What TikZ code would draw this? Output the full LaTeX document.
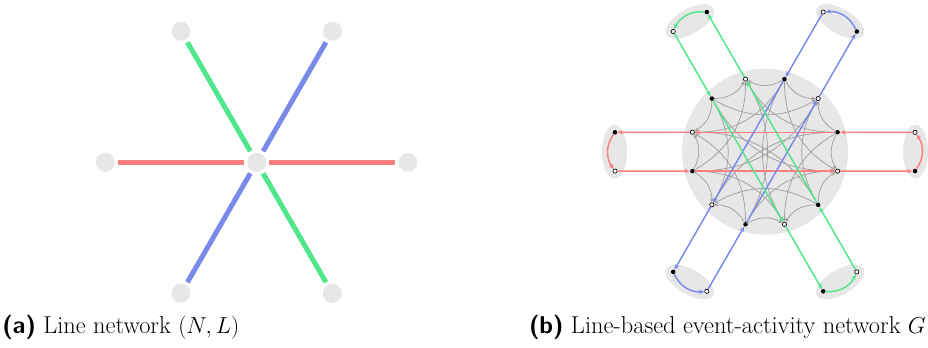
\documentclass[tikz,border=0pt]{standalone}
\usetikzlibrary{arrows.meta,calc}
\definecolor{lred}{RGB}{250,128,128}
\definecolor{lblue}{RGB}{122,138,235}
\definecolor{lgreen}{RGB}{80,230,140}
\definecolor{bggray}{RGB}{231,231,231}
\definecolor{tgray}{RGB}{160,160,160}
\begin{document}
\begin{tikzpicture}[x=0.75pt,y=0.75pt,
  lnode/.style={circle,fill=bggray,minimum size=14.25pt,inner sep=0pt},
  thickline/.style={line width=3.75pt,shorten <=2.25pt,shorten >=2.25pt},
  arrnode/.style={circle,fill=black,minimum size=3.4pt,inner sep=0pt},
  depnode/.style={circle,draw=black,fill=white,line width=0.5pt,minimum size=3.2pt,inner sep=0pt},
  act/.style={line width=1.1pt,-{Stealth[length=4pt,width=3.4pt]}},
  transfer/.style={draw=tgray,line width=0.55pt,-{Stealth[length=3pt,width=2.6pt]}},
  turn/.style={act,bend right=35},
  caption/.style={inner sep=0pt,font=\fontsize{18.3}{22}\selectfont}
]
\useasboundingbox (0,0) rectangle (928,347);

% ---------- (a) line network ----------
\begin{scope}[shift={(256.7,184.7)}]
  \node[lnode] (c) at (0,0) {};
  \foreach \a in {0,60,120,180,240,300}{
    \node[lnode] (p\a) at (\a:151.3) {};
  }
  \draw[thickline,lred] (p180) -- (c);
  \draw[thickline,lred] (c) -- (p0);
  \draw[thickline,lgreen] (p120) -- (c);
  \draw[thickline,lgreen] (c) -- (p300);
  \draw[thickline,lblue] (p60) -- (c);
  \draw[thickline,lblue] (c) -- (p240);
\end{scope}

% ---------- (b) event-activity network ----------
\begin{scope}[shift={(765,195.3)}]
  \fill[bggray] (0,0) circle [radius=83];
  \foreach \t in {0,60,120,180,240,300}{
    \fill[bggray,rotate=\t] (150.5,0) ellipse [x radius=12.5, y radius=27];
  }
  % inner events
  \foreach \a in {15,75,135,195,255,315}{
    \node[arrnode] (A\a) at (\a:75.15) {};
  }
  \foreach \d in {45,105,165,225,285,345}{
    \node[depnode] (D\d) at (\d:75.15) {};
  }
  % outer events: line l at angle t
  \foreach \l/\t in {r/0,b/60,g/120}{
    \node[depnode] (\l dP) at ({\t+7.37}:151.25) {};
    \node[arrnode] (\l aP) at ({\t-7.37}:151.25) {};
    \node[arrnode] (\l aQ) at ({\t+172.63}:151.25) {};
    \node[depnode] (\l dQ) at ({\t+187.37}:151.25) {};
  }
  % transfer activities (all bowing towards the centre)
  \foreach \a in {15,75,135,195,255,315}{
    \foreach \d in {45,105,165,225,285,345}{
      \pgfmathtruncatemacro{\w}{mod(\a+150,360)}
      \pgfmathtruncatemacro{\dd}{mod(\d-\a+360,360)}
      \ifnum\w=\d\relax\else
        \ifnum\dd<180\relax
          \draw[transfer] (A\a) to[bend left=30] (D\d);
        \else
          \draw[transfer] (A\a) to[bend right=30] (D\d);
        \fi
      \fi
    }
  }
  % red line
  \begin{scope}[lred]
    \draw[act] (rdP) -- (A15);
    \draw[act] (A15) -- (D165);
    \draw[act] (D165) -- (raQ);
    \draw[turn] (raQ) to (rdQ);
    \draw[act] (rdQ) -- (A195);
    \draw[act] (A195) -- (D345);
    \draw[act] (D345) -- (raP);
    \draw[turn] (raP) to (rdP);
  \end{scope}
  % blue line
  \begin{scope}[lblue]
    \draw[act] (bdP) -- (A75);
    \draw[act] (A75) -- (D225);
    \draw[act] (D225) -- (baQ);
    \draw[turn] (baQ) to (bdQ);
    \draw[act] (bdQ) -- (A255);
    \draw[act] (A255) -- (D45);
    \draw[act] (D45) -- (baP);
    \draw[turn] (baP) to (bdP);
  \end{scope}
  % green line
  \begin{scope}[lgreen]
    \draw[act] (gdP) -- (A135);
    \draw[act] (A135) -- (D285);
    \draw[act] (D285) -- (gaQ);
    \draw[turn] (gaQ) to (gdQ);
    \draw[act] (gdQ) -- (A315);
    \draw[act] (A315) -- (D105);
    \draw[act] (D105) -- (gaP);
    \draw[turn] (gaP) to (gdP);
  \end{scope}
\end{scope}

% ---------- captions ----------
\node[caption,anchor=base west] (capa) at (2,14) {{\sffamily\bfseries (a)} Line network $(N,L)$};
\node[caption,anchor=base east] (capb) at (926,14) {{\sffamily\bfseries (b)} Line-based event-activity network $G$};
\end{tikzpicture}
\end{document}
